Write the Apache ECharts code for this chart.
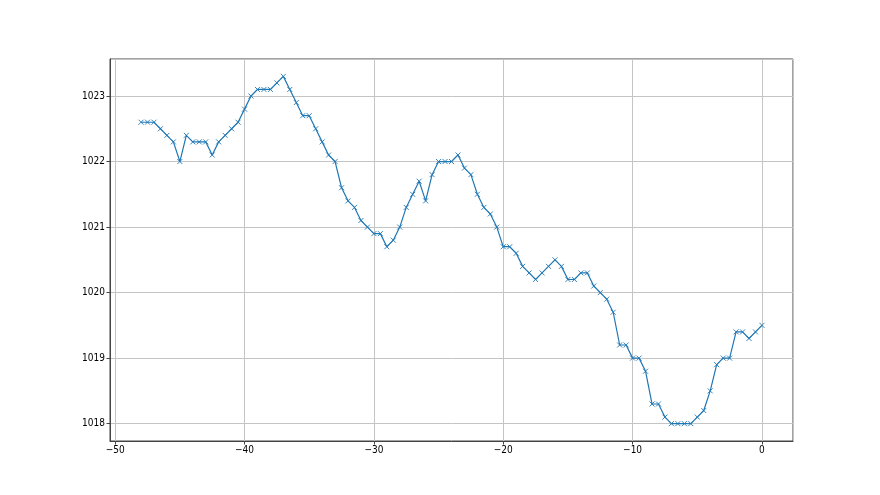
<!DOCTYPE html>
<html>
<head>
<meta charset="utf-8">
<script src="https://cdn.jsdelivr.net/npm/echarts@6/dist/echarts.min.js"></script>
<style>
  html, body { margin: 0; padding: 0; background: #fff; }
  #chart { width: 880px; height: 495px; }
</style>
</head>
<body>
<div id="chart"></div>
<script>
// hours before now
const xValues = [
  -48, -47.5, -47, -46.5, -46, -45.5, -45, -44.5, -44, -43.5, -43, -42.5,
  -42, -41.5, -41, -40.5, -40, -39.5, -39, -38.5, -38, -37.5, -37, -36.5,
  -36, -35.5, -35, -34.5, -34, -33.5, -33, -32.5, -32, -31.5, -31, -30.5,
  -30, -29.5, -29, -28.5, -28, -27.5, -27, -26.5, -26, -25.5, -25, -24.5,
  -24, -23.5, -23, -22.5, -22, -21.5, -21, -20.5, -20, -19.5, -19, -18.5,
  -18, -17.5, -17, -16.5, -16, -15.5, -15, -14.5, -14, -13.5, -13, -12.5,
  -12, -11.5, -11, -10.5, -10, -9.5, -9, -8.5, -8, -7.5, -7, -6.5,
  -6, -5.5, -5, -4.5, -4, -3.5, -3, -2.5, -2, -1.5, -1, -0.5, 0
]

// pressure
const yValues = [
  1022.6, 1022.6, 1022.6, 1022.5, 1022.4, 1022.3, 1022.0, 1022.4, 1022.3, 1022.3, 1022.3, 1022.1,
  1022.3, 1022.4, 1022.5, 1022.6, 1022.8, 1023.0, 1023.1, 1023.1, 1023.1, 1023.2, 1023.3, 1023.1,
  1022.9, 1022.7, 1022.7, 1022.5, 1022.3, 1022.1, 1022.0, 1021.6, 1021.4, 1021.3, 1021.1, 1021.0,
  1020.9, 1020.9, 1020.7, 1020.8, 1021.0, 1021.3, 1021.5, 1021.7, 1021.4, 1021.8, 1022.0, 1022.0,
  1022.0, 1022.1, 1021.9, 1021.8, 1021.5, 1021.3, 1021.2, 1021.0, 1020.7, 1020.7, 1020.6, 1020.4,
  1020.3, 1020.2, 1020.3, 1020.4, 1020.5, 1020.4, 1020.2, 1020.2, 1020.3, 1020.3, 1020.1, 1020.0,
  1019.9, 1019.7, 1019.2, 1019.2, 1019.0, 1019.0, 1018.8, 1018.3, 1018.3, 1018.1, 1018.0, 1018.0,
  1018.0, 1018.0, 1018.1, 1018.2, 1018.5, 1018.9, 1019.0, 1019.0, 1019.4, 1019.4, 1019.3, 1019.4, 1019.5
]

const points = xValues.map((x, i) => [x, yValues[i]])

const chart = echarts.init(document.getElementById('chart'), null, { renderer: 'canvas' })

const axisCommon = {
  axisLine: { show: true, onZero: false, lineStyle: { color: '#444', width: 1 } },
  axisTick: { show: true, inside: false, length: 3.5, lineStyle: { color: '#444' } },
  axisLabel: {
    color: '#000',
    fontFamily: 'Liberation Sans Narrow, DejaVu Sans Condensed, sans-serif',
    fontSize: 10,
    showMinLabel: false,
    showMaxLabel: false,
    formatter: v => String(v).replace('-', '\u2212'),
  },
  splitLine: { show: true, lineStyle: { color: '#c4c4c4', width: 1 } },
}

chart.setOption({
  backgroundColor: '#fff',
  animation: false,
  grid: {
    left: 110,
    right: 87,
    top: 59,
    bottom: 54,
    show: true,
    borderColor: '#444',
    borderWidth: 1,
    backgroundColor: 'transparent',
  },
  xAxis: {
    type: 'value',
    min: -50.4,
    max: 2.4,
    minInterval: 10,
    maxInterval: 10,
    ...axisCommon,
    axisLabel: { ...axisCommon.axisLabel, margin: 4 },
  },
  yAxis: {
    type: 'value',
    min: 1017.735,
    max: 1023.565,
    minInterval: 1,
    maxInterval: 1,
    scale: true,
    ...axisCommon,
    axisLabel: { ...axisCommon.axisLabel, margin: 5 },
  },
  series: [
    {
      type: 'line',
      data: points,
      symbol: 'path://M0,0L10,10M10,0L0,10',
      symbolSize: 5,
      showAllSymbol: true,
      lineStyle: { color: '#1f77b4', width: 1.2 },
      itemStyle: { color: 'transparent', borderColor: '#1f77b4', borderWidth: 0.9 },
      emphasis: { disabled: true },
    },
  ],
})
</script>
</body>
</html>
